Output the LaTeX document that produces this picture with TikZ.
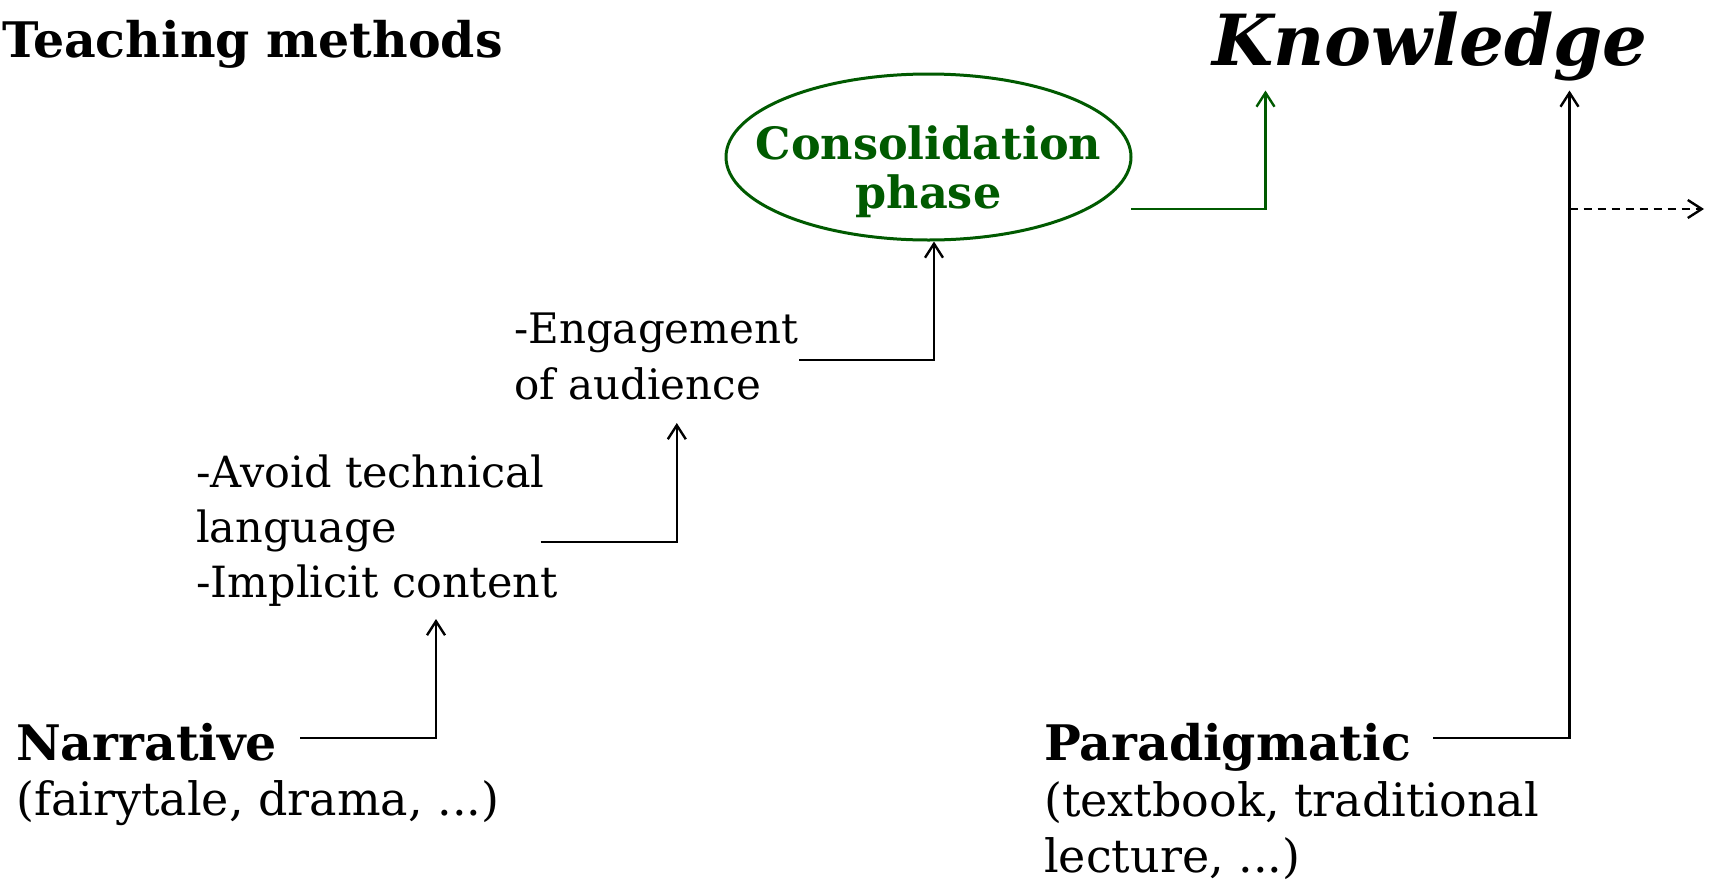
\documentclass[tikz,border=0pt]{standalone}
\usepackage{fontspec}
\setmainfont{DejaVu Serif}
\usetikzlibrary{shapes.geometric,arrows.meta}
\definecolor{dgreen}{RGB}{0,90,0}
\newcommand{\leftlines}[2]{\vtop{\baselineskip=#1pt\lineskiplimit=-100pt\halign{##\hfil\cr #2\crcr}}}
\newcommand{\centerlines}[2]{\vtop{\baselineskip=#1pt\lineskiplimit=-100pt\halign{\hfil##\hfil\cr #2\crcr}}}
\begin{document}
\begin{tikzpicture}[x=1pt,y=-1pt,
  lbl/.style={anchor=base west, inner sep=0pt},
  body/.style={font=\fontsize{#1}{55}\selectfont},
  conn/.style={line width=2.4pt, -{Straight Barb[length=14pt,width=18pt]}},
  gconn/.style={conn, dgreen},
  dconn/.style={conn, dash pattern=on 8pt off 6pt},
  phase/.style={ellipse, draw=dgreen, line width=3pt, minimum width=405pt, minimum height=166pt, inner sep=0pt},
  phasetext/.style={anchor=base, inner sep=0pt, text=dgreen, font=\bfseries\fontsize{44.5}{49}\selectfont}]
\useasboundingbox (0,0) rectangle (1709,887);
\fill[white] (0,0) rectangle (1709,887);

\node[lbl, font=\bfseries\fontsize{49}{55}\selectfont] (title) at (2,57) {Teaching methods};
\node[lbl, font=\bfseries\itshape\fontsize{70.5}{72}\selectfont] (know) at (1212,65) {Knowledge};
\node[phase] (cons) at (928.5,157) {};
\node[phasetext] (constext) at (928.5,159) {\centerlines{49}{Consolidation\cr phase}};
\node[lbl, body=42] (eng) at (514,343) {\leftlines{56}{-Engagement\cr of audience}};
\node[lbl, body=43] (avoid) at (196,487) {\leftlines{55}{-Avoid technical\cr language\cr -Implicit content}};
\node[lbl, body=46] (narr) at (16,760) {\leftlines{55}{{\bfseries\fontsize{49}{55}\selectfont Narrative}\cr (fairytale, drama, ...)}};
\node[lbl, body=46] (para) at (1044,760) {\leftlines{56}{{\bfseries\fontsize{49}{55}\selectfont Paradigmatic}\cr (textbook, traditional\cr lecture, ...)}};

\coordinate (narrout) at (300,738);
\coordinate (avoidin) at (436,619);
\coordinate (avoidout) at (540.6,541.7);
\coordinate (engin) at (676.8,423);
\coordinate (engout) at (799,360);
\coordinate (consout) at (1131,209);
\coordinate (kin1) at (1265.5,90.5);
\coordinate (paraout) at (1433,738);
\coordinate (kin2) at (1569.5,90.5);
\coordinate (dstart) at (1569.5,209);
\coordinate (dend) at (1704,209);

\draw[conn] (narrout) -| (avoidin);
\draw[conn] (avoidout) -| (engin);
\draw[conn] (engout) -| ([xshift=5.5pt]cons.south);
\draw[gconn] (consout) -| (kin1);
\draw[conn] (paraout) -| (kin2);
\draw[dconn] (dstart) -- (dend);
\end{tikzpicture}
\end{document}
